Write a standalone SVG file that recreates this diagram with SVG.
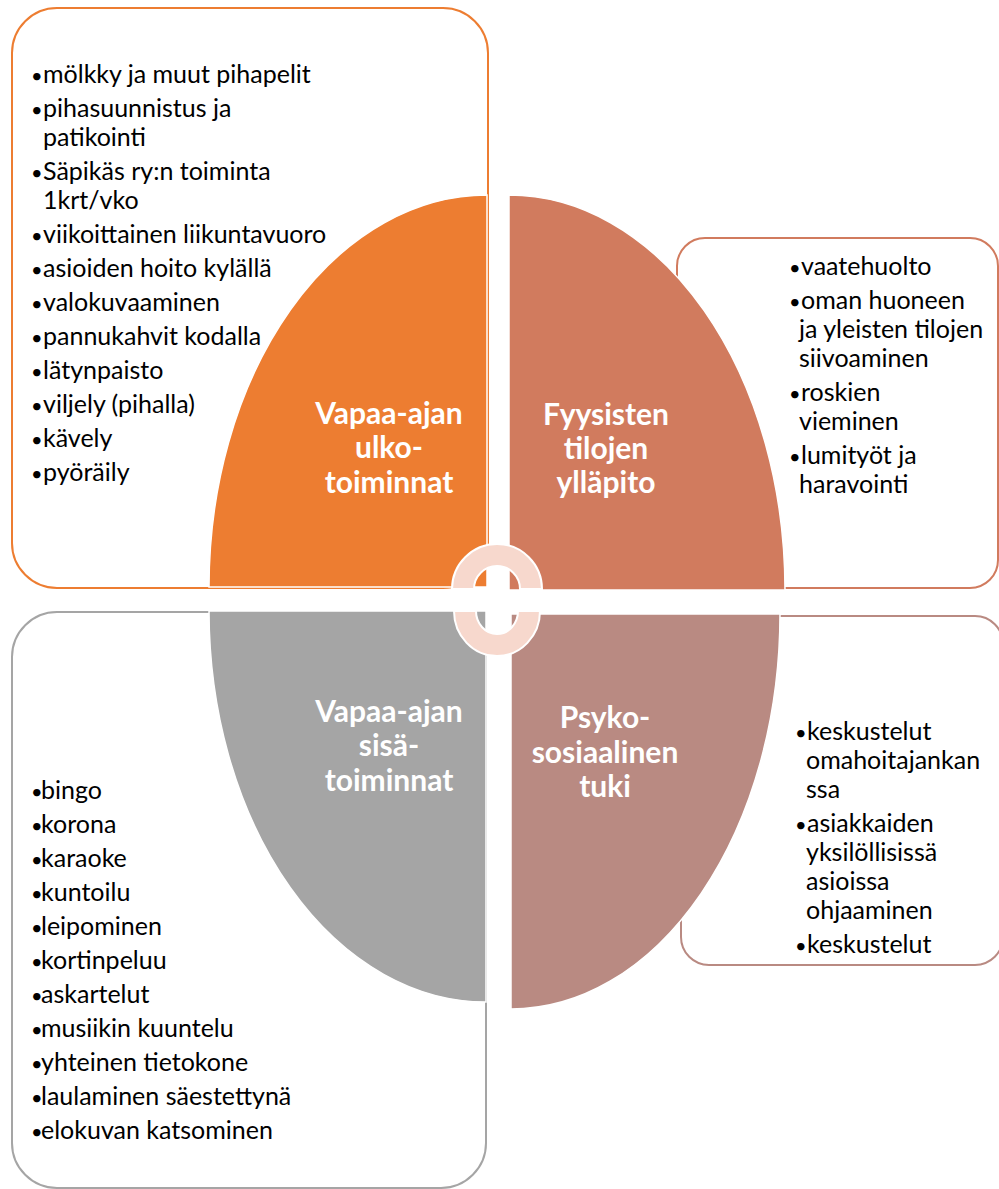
<svg xmlns="http://www.w3.org/2000/svg" width="999" height="1189" viewBox="0 0 999 1189">
<style>
.box{fill:#FFFFFF;stroke-width:2}
.seg{stroke:#FFFFFF;stroke-width:1.5}
.item{font-family:Lato,"Liberation Sans",sans-serif;font-size:25px;fill:#000000}
.b{font-size:20px}
.lab{font-family:Lato,"Liberation Sans",sans-serif;font-size:30px;font-weight:bold;fill:#FFFFFF;text-anchor:middle}
.ring{fill:#F7D8CD;stroke:#FFFFFF;stroke-width:2}
</style>
<rect width="999" height="1189" fill="#FFFFFF"/>
<g id="box-ulko">
<rect class="box" x="12" y="8" width="476" height="580" rx="45" stroke="#ED7D31"/>
<text class="item" y="83"><tspan class="b" x="31">•</tspan><tspan x="43">mölkky ja muut pihapelit</tspan></text>
<text class="item" y="117"><tspan class="b" x="31">•</tspan><tspan x="43">pihasuunnistus ja</tspan></text>
<text class="item" x="43" y="146">patikointi</text>
<text class="item" y="180"><tspan class="b" x="31">•</tspan><tspan x="43">Säpikäs ry:n toiminta</tspan></text>
<text class="item" x="43" y="209">1krt/vko</text>
<text class="item" y="243"><tspan class="b" x="31">•</tspan><tspan x="43">viikoittainen liikuntavuoro</tspan></text>
<text class="item" y="277"><tspan class="b" x="31">•</tspan><tspan x="43">asioiden hoito kylällä</tspan></text>
<text class="item" y="311"><tspan class="b" x="31">•</tspan><tspan x="43">valokuvaaminen</tspan></text>
<text class="item" y="345"><tspan class="b" x="31">•</tspan><tspan x="43">pannukahvit kodalla</tspan></text>
<text class="item" y="379"><tspan class="b" x="31">•</tspan><tspan x="43">lätynpaisto</tspan></text>
<text class="item" y="413"><tspan class="b" x="31">•</tspan><tspan x="43">viljely (pihalla)</tspan></text>
<text class="item" y="447"><tspan class="b" x="31">•</tspan><tspan x="43">kävely</tspan></text>
<text class="item" y="481"><tspan class="b" x="31">•</tspan><tspan x="43">pyöräily</tspan></text>
</g>
<g id="box-yllapito">
<rect class="box" x="677" y="238" width="321" height="350" rx="28" stroke="#D17B5E"/>
<text class="item" y="275"><tspan class="b" x="789">•</tspan><tspan x="801">vaatehuolto</tspan></text>
<text class="item" y="309"><tspan class="b" x="789">•</tspan><tspan x="801">oman huoneen</tspan></text>
<text class="item" x="799" y="338">ja yleisten tilojen</text>
<text class="item" x="799" y="367">siivoaminen</text>
<text class="item" y="401"><tspan class="b" x="789">•</tspan><tspan x="801">roskien</tspan></text>
<text class="item" x="799" y="430">vieminen</text>
<text class="item" y="464"><tspan class="b" x="789">•</tspan><tspan x="801">lumityöt ja</tspan></text>
<text class="item" x="799" y="493">haravointi</text>
</g>
<g id="box-sisa">
<rect class="box" x="12" y="612" width="474" height="576" rx="45" stroke="#A5A5A5"/>
<text class="item" y="799"><tspan class="b" x="31">•</tspan><tspan x="41">bingo</tspan></text>
<text class="item" y="833"><tspan class="b" x="31">•</tspan><tspan x="41">korona</tspan></text>
<text class="item" y="867"><tspan class="b" x="31">•</tspan><tspan x="41">karaoke</tspan></text>
<text class="item" y="901"><tspan class="b" x="31">•</tspan><tspan x="41">kuntoilu</tspan></text>
<text class="item" y="935"><tspan class="b" x="31">•</tspan><tspan x="41">leipominen</tspan></text>
<text class="item" y="969"><tspan class="b" x="31">•</tspan><tspan x="41">kortinpeluu</tspan></text>
<text class="item" y="1003"><tspan class="b" x="31">•</tspan><tspan x="41">askartelut</tspan></text>
<text class="item" y="1037"><tspan class="b" x="31">•</tspan><tspan x="41">musiikin kuuntelu</tspan></text>
<text class="item" y="1071"><tspan class="b" x="31">•</tspan><tspan x="41">yhteinen tietokone</tspan></text>
<text class="item" y="1105"><tspan class="b" x="31">•</tspan><tspan x="41">laulaminen säestettynä</tspan></text>
<text class="item" y="1139"><tspan class="b" x="31">•</tspan><tspan x="41">elokuvan katsominen</tspan></text>
</g>
<g id="box-psyko">
<rect class="box" x="681" y="616" width="322" height="349" rx="28" stroke="#B98A82"/>
<text class="item" y="740"><tspan class="b" x="795">•</tspan><tspan x="807">keskustelut</tspan></text>
<text class="item" x="806" y="769">omahoitajankan</text>
<text class="item" x="806" y="798">ssa</text>
<text class="item" y="832"><tspan class="b" x="795">•</tspan><tspan x="807">asiakkaiden</tspan></text>
<text class="item" x="806" y="861">yksilöllisissä</text>
<text class="item" x="806" y="890">asioissa</text>
<text class="item" x="806" y="919">ohjaaminen</text>
<text class="item" y="953"><tspan class="b" x="795">•</tspan><tspan x="807">keskustelut</tspan></text>
</g>
<g id="seg-ulko">
<path class="seg" fill="#ED7D31" d="M487,587 L209,587 A278,392 0 0 1 487,195 Z"/>
<text class="lab" x="389" y="424">Vapaa-ajan</text>
<text class="lab" x="389" y="458">ulko-</text>
<text class="lab" x="389" y="493">toiminnat</text>
</g>
<g id="seg-yllapito">
<path class="seg" fill="#D17B5E" d="M509,590 L509,195 A276,395 0 0 1 785,590 Z"/>
<text class="lab" x="606" y="425">Fyysisten</text>
<text class="lab" x="606" y="459">tilojen</text>
<text class="lab" x="606" y="493">ylläpito</text>
</g>
<g id="seg-sisa">
<path class="seg" fill="#A5A5A5" d="M486,611 L486,1002 A277,391 0 0 1 209,611 Z"/>
<text class="lab" x="389" y="722">Vapaa-ajan</text>
<text class="lab" x="389" y="756">sisä-</text>
<text class="lab" x="389" y="791">toiminnat</text>
</g>
<g id="seg-psyko">
<path class="seg" fill="#B98A82" d="M511,614 L780,614 A269,395 0 0 1 511,1009 Z"/>
<text class="lab" x="605" y="728">Psyko-</text>
<text class="lab" x="605" y="763">sosiaalinen</text>
<text class="lab" x="605" y="797">tuki</text>
</g>
<g id="connectors">
<path class="ring" d="M452,589 A45,45 0 0 1 542,589 L520,589 A23,23 0 0 0 474,589 Z"/>
<path class="ring" d="M454,611 A43,45 0 0 0 540,611 L518,611 A21,23 0 0 1 476,611 Z"/>
</g>
</svg>
